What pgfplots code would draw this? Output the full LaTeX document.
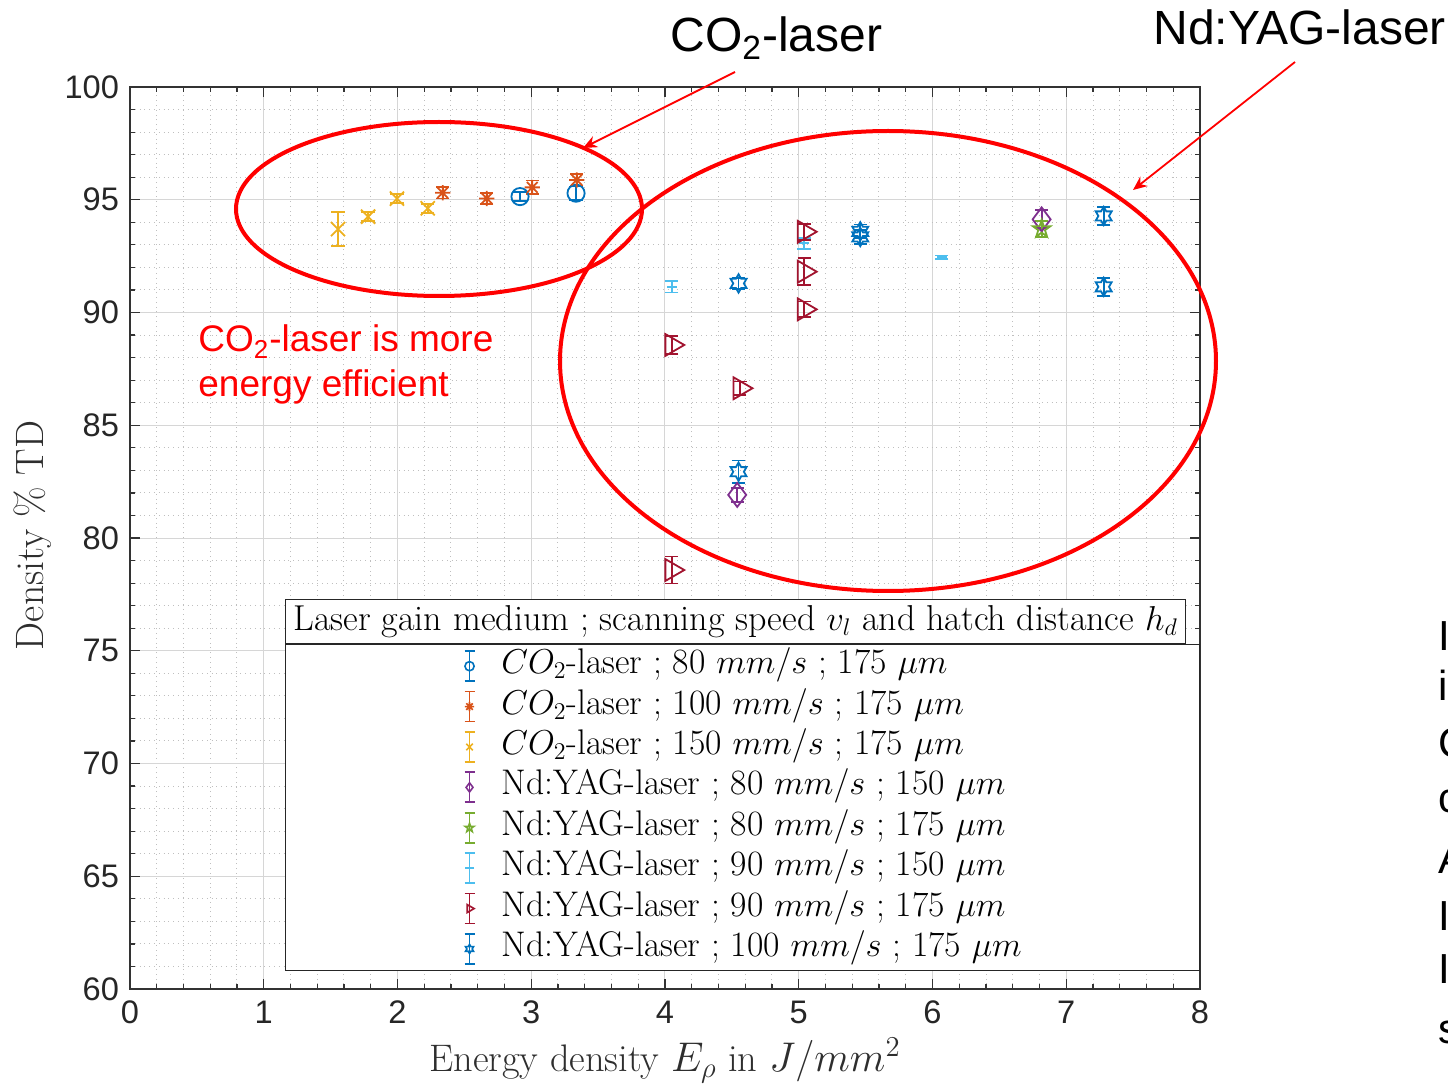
\documentclass[border=0pt]{standalone}
\usepackage{pgfplots}
\pgfplotsset{compat=1.18}
\usepackage{fontspec}
\usetikzlibrary{arrows.meta}
\newfontfamily\arial{Liberation Sans}

\definecolor{mBlue}{rgb}{0,0.447,0.741}
\definecolor{mOrange}{rgb}{0.85,0.325,0.098}
\definecolor{mYellow}{rgb}{0.929,0.694,0.125}
\definecolor{mPurple}{rgb}{0.494,0.184,0.556}
\definecolor{mGreen}{rgb}{0.466,0.674,0.188}
\definecolor{mCyan}{rgb}{0.301,0.745,0.933}
\definecolor{mRed}{rgb}{0.635,0.078,0.184}

% outlined six-pointed star
\pgfdeclareplotmark{hexagram}{%
  \pgfpathmoveto{\pgfqpointpolar{90}{\pgfplotmarksize}}%
  \pgfpathlineto{\pgfqpointpolar{120}{0.577\pgfplotmarksize}}%
  \pgfpathlineto{\pgfqpointpolar{150}{\pgfplotmarksize}}%
  \pgfpathlineto{\pgfqpointpolar{180}{0.577\pgfplotmarksize}}%
  \pgfpathlineto{\pgfqpointpolar{210}{\pgfplotmarksize}}%
  \pgfpathlineto{\pgfqpointpolar{240}{0.577\pgfplotmarksize}}%
  \pgfpathlineto{\pgfqpointpolar{270}{\pgfplotmarksize}}%
  \pgfpathlineto{\pgfqpointpolar{300}{0.577\pgfplotmarksize}}%
  \pgfpathlineto{\pgfqpointpolar{330}{\pgfplotmarksize}}%
  \pgfpathlineto{\pgfqpointpolar{0}{0.577\pgfplotmarksize}}%
  \pgfpathlineto{\pgfqpointpolar{30}{\pgfplotmarksize}}%
  \pgfpathlineto{\pgfqpointpolar{60}{0.577\pgfplotmarksize}}%
  \pgfpathclose
  \pgfusepathqstroke
}
% outlined five-pointed star
\pgfdeclareplotmark{pentagram}{%
  \pgfpathmoveto{\pgfqpointpolar{90}{\pgfplotmarksize}}%
  \pgfpathlineto{\pgfqpointpolar{126}{0.382\pgfplotmarksize}}%
  \pgfpathlineto{\pgfqpointpolar{162}{\pgfplotmarksize}}%
  \pgfpathlineto{\pgfqpointpolar{198}{0.382\pgfplotmarksize}}%
  \pgfpathlineto{\pgfqpointpolar{234}{\pgfplotmarksize}}%
  \pgfpathlineto{\pgfqpointpolar{270}{0.382\pgfplotmarksize}}%
  \pgfpathlineto{\pgfqpointpolar{306}{\pgfplotmarksize}}%
  \pgfpathlineto{\pgfqpointpolar{342}{0.382\pgfplotmarksize}}%
  \pgfpathlineto{\pgfqpointpolar{18}{\pgfplotmarksize}}%
  \pgfpathlineto{\pgfqpointpolar{54}{0.382\pgfplotmarksize}}%
  \pgfpathclose
  \pgfusepathqstroke
}
% eight-armed asterisk
\pgfdeclareplotmark{astr}{%
  \pgfpathmoveto{\pgfqpoint{-\pgfplotmarksize}{0pt}}\pgfpathlineto{\pgfqpoint{\pgfplotmarksize}{0pt}}%
  \pgfpathmoveto{\pgfqpoint{0pt}{-\pgfplotmarksize}}\pgfpathlineto{\pgfqpoint{0pt}{\pgfplotmarksize}}%
  \pgfpathmoveto{\pgfqpoint{-.707\pgfplotmarksize}{-.707\pgfplotmarksize}}\pgfpathlineto{\pgfqpoint{.707\pgfplotmarksize}{.707\pgfplotmarksize}}%
  \pgfpathmoveto{\pgfqpoint{-.707\pgfplotmarksize}{.707\pgfplotmarksize}}\pgfpathlineto{\pgfqpoint{.707\pgfplotmarksize}{-.707\pgfplotmarksize}}%
  \pgfusepathqstroke
}

\pgfplotsset{
  ebar/.style={only marks, line width=0.9pt,
    error bars/.cd, y dir=both, y explicit,
    error bar style={line width=0.9pt},
    error mark options={mark size=3.3pt, line width=0.9pt, rotate=90}},
}

% x: energy density, y: density, e: half error bar
\pgfplotstableread{
x y e
2.916 95.14 0.20
3.335 95.29 0.30
}\coA
\pgfplotstableread{
x y e
2.338 95.31 0.25
2.667 95.06 0.25
3.008 95.55 0.30
3.340 95.88 0.25
}\coB
\pgfplotstableread{
x y e
1.555 93.70 0.75
1.780 94.25 0.20
1.996 95.05 0.20
2.226 94.62 0.20
}\coC
\pgfplotstableread{
x y e
4.54 81.91 0.30
6.816 94.13 0.40
}\ndA
\pgfplotstableread{
x y e
6.816 93.70 0.35
}\ndB
\pgfplotstableread{
x y e
4.05 91.14 0.25
5.04 93.07 0.25
6.07 92.45 0.08
}\ndC
\pgfplotstableread{
x y e
5.04 93.58 0.35
5.04 91.81 0.60
5.04 90.14 0.35
4.05 88.56 0.40
4.56 86.64 0.30
4.05 78.58 0.60
}\ndD
\pgfplotstableread{
x y e
4.55 91.29 0.25
5.46 93.35 0.30
5.46 93.60 0.30
4.55 82.94 0.50
7.28 94.28 0.40
7.28 91.14 0.40
}\ndE

\begin{document}
\begin{tikzpicture}
\useasboundingbox (0,0) rectangle (724pt,542pt);
\begin{axis}[
  at={(65pt,47.5pt)}, anchor=south west,
  scale only axis, width=535pt, height=451pt,
  xmin=0, xmax=8, ymin=60, ymax=100,
  xtick={0,...,8}, ytick={60,65,...,100},
  minor x tick num=4, minor y tick num=4,
  grid=both,
  major grid style={black!16, line width=0.5pt},
  minor grid style={black!25, dotted, line width=0.5pt},
  axis line style={black!80, line width=0.7pt},
  tick style={black!80, line width=0.6pt},
  major tick length=5pt, minor tick length=2.5pt,
  tick align=inside,
  /pgf/number format/assume math mode=true,
  ticklabel style={font=\fontsize{16.3}{19}\selectfont\arial, text=black!85},
  xticklabel style={yshift=-2.5pt},
  yticklabel style={xshift=-2pt},
  xlabel={Energy density $E_\rho$ in $J/mm^2$},
  ylabel={Density \% TD},
  label style={text=black!82},
  xlabel style={font=\fontsize{19.2}{23}\selectfont, at={(axis description cs:0.5,-0.079)}, anchor=center},
  ylabel style={font=\fontsize{19.8}{23}\selectfont, at={(axis description cs:-0.091,0.503)}, anchor=center, rotate=0},
  legend image code/.code={%
    \draw[#1, line width=0.9pt] (0pt,-7.5pt) -- (0pt,7.5pt)
      (-2.5pt,-7.5pt) -- (2.5pt,-7.5pt) (-2.5pt,7.5pt) -- (2.5pt,7.5pt);
    \draw[#1, mark size=2.3pt, line width=0.8pt] plot coordinates {(0pt,0pt)};
  },
  legend style={at={(axis description cs:0.1449,0.3825)}, anchor=north west,
    draw=black!85, fill=white, line width=0.6pt,
    inner xsep=89pt, inner ysep=2.55pt,
    font=\fontsize{17.8}{20}\selectfont,
    nodes={inner sep=0pt, text height=12pt, text depth=4.5pt},
    row sep=3.7pt,
    /tikz/every odd column/.append style={column sep=13pt}},
  legend cell align=left,
]
\addplot[color=mBlue, mark=o, mark size=4.3pt, ebar] table[x=x,y=y,y error=e] {\coA};
\addlegendentry{$CO_2$-laser ; 80 $mm/s$ ; 175 $\mu m$}
\addplot[color=mOrange, mark=astr, mark size=3.8pt, ebar] table[x=x,y=y,y error=e] {\coB};
\addlegendentry{$CO_2$-laser ; 100 $mm/s$ ; 175 $\mu m$}
\addplot[color=mYellow, mark=x, mark size=5pt, ebar] table[x=x,y=y,y error=e] {\coC};
\addlegendentry{$CO_2$-laser ; 150 $mm/s$ ; 175 $\mu m$}
\addplot[color=mPurple, mark=diamond, mark size=6pt, ebar] table[x=x,y=y,y error=e] {\ndA};
\addlegendentry{Nd:YAG-laser ; 80 $mm/s$ ; 150 $\mu m$}
\addplot[color=mGreen, mark=pentagram, mark size=4.6pt, ebar] table[x=x,y=y,y error=e] {\ndB};
\addlegendentry{Nd:YAG-laser ; 80 $mm/s$ ; 175 $\mu m$}
\addplot[color=mCyan, mark=-, mark size=2.5pt, ebar] table[x=x,y=y,y error=e] {\ndC};
\addlegendentry{Nd:YAG-laser ; 90 $mm/s$ ; 150 $\mu m$}
\addplot[color=mRed, mark=triangle, mark size=6.3pt, mark options={rotate=-90}, ebar] table[x=x,y=y,y error=e] {\ndD};
\addlegendentry{Nd:YAG-laser ; 90 $mm/s$ ; 175 $\mu m$}
\addplot[color=mBlue, mark=hexagram, mark size=4.6pt, ebar] table[x=x,y=y,y error=e] {\ndE};
\addlegendentry{Nd:YAG-laser ; 100 $mm/s$ ; 175 $\mu m$}

\node[draw=black!85, fill=white, line width=0.6pt, anchor=south west,
  minimum width=450pt, minimum height=22pt, inner sep=0pt,
  font=\fontsize{18}{20}\selectfont]
  at (axis description cs:0.1449,0.3825)
  {Laser gain medium ; scanning speed $v_l$ and hatch distance $h_d$};
\end{axis}

% slide annotations, in pixel units measured from the top-left corner
\begin{scope}[x=0.5pt, y=-0.5pt, yshift=542pt]
  \draw[red, line width=2pt] (439,209) ellipse [x radius=203, y radius=87];
  \draw[red, line width=2pt] (888,361) ellipse [x radius=328, y radius=230];
  \draw[red, line width=0.9pt, -{Stealth[length=7pt,width=6pt]}] (735,72) -- (583,148);
  \draw[red, line width=0.9pt, -{Stealth[length=7pt,width=6pt]}] (1295,62) -- (1133,190);
  \node[anchor=base west, inner sep=0pt, font=\fontsize{24}{28}\selectfont\arial] at (670,52) {CO\textsubscript{2}-laser};
  \node[anchor=base west, inner sep=0pt, font=\fontsize{24}{28}\selectfont\arial] at (1153,45) {Nd:YAG-laser};
  \node[anchor=base west, inner sep=0pt, text=red, font=\fontsize{18.5}{22}\selectfont\arial] at (198,352) {CO\textsubscript{2}-laser is more};
  \node[anchor=base west, inner sep=0pt, text=red, font=\fontsize{18.5}{22}\selectfont\arial] at (198,397) {energy efficient};
  \foreach \t/\b in {In/650, in/700, Co/757, co/813, Al/873, In/930, In/983, sp/1043}
    \node[anchor=base west, inner sep=0pt, font=\fontsize{21}{25}\selectfont\arial] at (1438,\b) {\t};
\end{scope}
\end{tikzpicture}
\end{document}
